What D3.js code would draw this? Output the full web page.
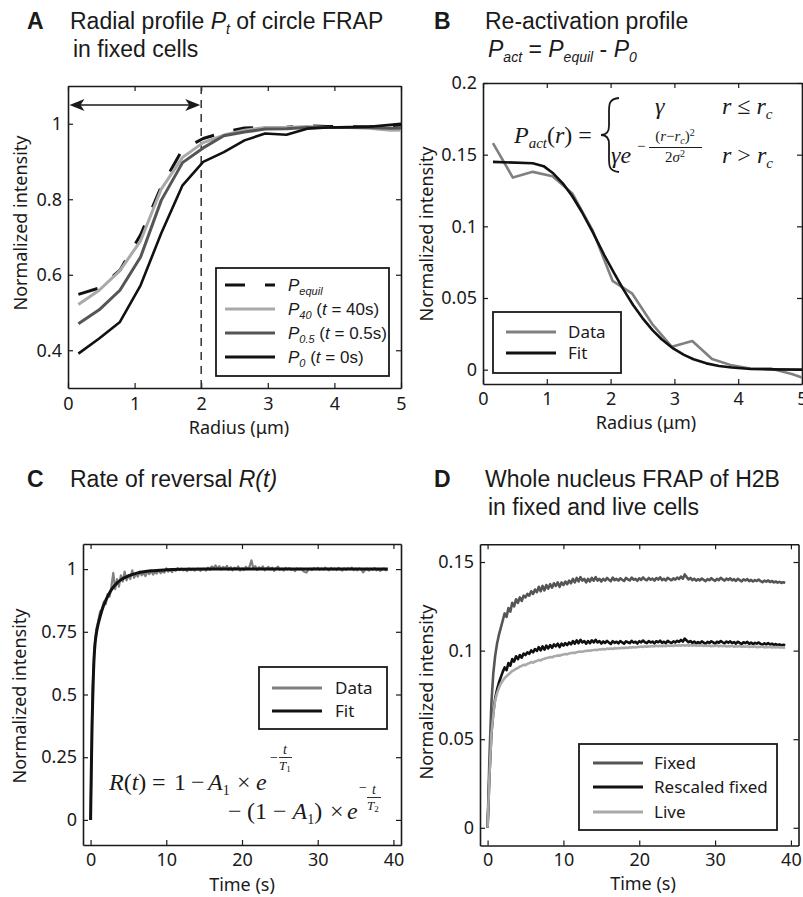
<!DOCTYPE html>
<html><head><meta charset="utf-8">
<script src="https://cdn.jsdelivr.net/npm/d3@7"></script>
<style>body{margin:0;background:#fff;}svg{display:block;}text{white-space:pre;}</style>
</head><body>
<svg id="fig" width="803" height="897"></svg>
<script>
// ================= DATA =================
// Panel A : radial profiles (radius in µm)
const radiusA = [0.156,0.468,0.78,1.09,1.40,1.72,2.03,2.34,2.65,2.96,3.28,3.59,3.90,4.21,4.52,4.84,5.0];
const pEquil  = [0.548,0.565,0.612,0.706,0.833,0.932,0.961,0.977,0.989,0.990,0.991,0.994,0.993,0.992,0.992,0.995,0.997];
const p40     = [0.521,0.559,0.611,0.690,0.827,0.911,0.950,0.970,0.983,0.990,0.990,0.993,0.990,0.990,0.988,0.983,0.983];
const p05     = [0.470,0.507,0.559,0.647,0.797,0.897,0.936,0.968,0.978,0.986,0.987,0.990,0.990,0.990,0.990,0.988,0.989];
const p0      = [0.391,0.431,0.475,0.572,0.710,0.837,0.899,0.925,0.956,0.974,0.971,0.987,0.990,0.991,0.992,0.997,1.000];
const rcA = 2, arrowLevelA = 1.05;
const xTicksA = [0,1,2,3,4,5], xLabelsA = ["0","1","2","3","4","5"];
const yTicksA = [0.4,0.6,0.8,1], yLabelsA = ["0.4","0.6","0.8","1"];

// Panel B : re-activation profile
const actData = [0.158,0.134,0.138,0.135,0.123,0.097,0.062,0.053,0.032,0.016,0.020,0.0075,0.003,0.0007,0.0007,-0.003,-0.0054];
const fitRadiusB = [0.156,0.78,0.95,1.1,1.25,1.4,1.55,1.72,1.9,2.04,2.2,2.35,2.5,2.66,2.8,2.98,3.15,3.3,3.5,3.7,3.9,4.2,4.5,5.0];
const fitValuesB = [0.145,0.144,0.142,0.137,0.130,0.121,0.110,0.096,0.080,0.0686,0.056,0.0453,0.036,0.0274,0.0212,0.0148,0.0103,0.0073,0.0044,0.0026,0.0015,0.0005,0.0002,0.0];
const xTicksB = [0,1,2,3,4,5], xLabelsB = ["0","1","2","3","4","5"];
const yTicksB = [0,0.05,0.1,0.15,0.2], yLabelsB = ["0","0.05","0.1","0.15","0.2"];

// Panels C, D : time series sampled every 0.25 s
const timeStep = 0.25;
const reversalData = [0,0.52,0.68,0.76,0.79,0.83,0.84,0.87,0.86,0.90,0.89,0.93,0.985,0.92,0.96,0.93,
0.975,0.95,0.99,0.955,0.975,0.96,0.995,0.965,0.98,0.97,0.99,0.975,0.985,0.972,0.99,0.98,
0.993,0.978,0.988,0.982,0.996,0.984,0.99,0.986,1.003,0.99,0.997,0.988,1.0,0.993,1.004,0.996,
1.002,0.995,0.999,0.992,1.003,0.996,1.001,0.994,0.998,1.002,0.993,0.999,1.001,0.994,1.006,0.997,
1.011,1.004,1.015,1.002,1.012,0.998,1.009,1.003,1.013,0.997,1.008,0.995,1.006,1.0,1.011,0.994,
1.003,0.996,1.009,1.0,1.01,1.035,1.002,1.012,0.996,1.008,1.001,1.011,0.995,1.004,1.009,0.998,
1.006,0.993,1.003,1.01,0.997,1.002,0.994,1.005,0.999,1.004,0.996,1.001,0.992,1.003,0.998,1.002,
0.995,0.989,0.986,0.997,1.002,0.996,1.004,0.999,1.005,0.997,1.003,0.998,1.006,1.0,0.995,1.004,
0.998,1.002,0.996,1.005,0.999,0.994,1.003,0.997,1.004,0.999,1.006,0.996,1.002,0.995,1.003,0.998,
0.987,0.996,1.002,0.994,1.001,0.997,1.004,0.995,1.0,0.993,0.998,1.002,0.995,0.999];
const fitTimesC  = [0,0.1,0.2,0.3,0.4,0.5,0.6,0.8,1,1.3,1.6,2,2.5,3,3.5,4,5,6,7,8,10,12,15,20,30,39.25];
const fitValuesC = [0,0.2,0.38,0.5,0.6,0.665,0.705,0.75,0.78,0.815,0.845,0.875,0.905,0.928,0.945,0.957,0.973,0.983,0.989,0.993,0.997,0.999,1.0,1.0,1.0,1.0];
const xTicksC = [0,10,20,30,40], xLabelsC = ["0","10","20","30","40"];
const yTicksC = [0,0.25,0.5,0.75,1], yLabelsC = ["0","0.25","0.5","0.75","1"];

const fixedD = [0,0.040,0.070,0.087,0.097,0.104,0.109,0.113,0.117,0.121,0.119,0.124,0.122,0.127,0.125,0.129,
0.127,0.130,0.128,0.131,0.130,0.132,0.131,0.1335,0.132,0.1345,0.133,0.136,0.1335,0.1365,0.134,0.137,
0.135,0.1375,0.1355,0.138,0.1365,0.1385,0.136,0.1385,0.137,0.139,0.1375,0.1395,0.138,0.1405,0.1385,0.141,
0.139,0.1415,0.1395,0.1405,0.1385,0.1405,0.139,0.141,0.1395,0.1415,0.1395,0.1405,
0.1390,0.1405,0.1395,0.1410,0.1400,0.1392,0.1412,0.1398,0.1405,0.1395,0.1408,0.1400,0.1393,0.1410,0.1402,0.1396,
0.1412,0.1400,0.1405,0.1394,0.1408,0.1399,0.1413,0.1402,0.1397,0.1410,0.1400,0.1406,0.1395,0.1409,0.1401,0.1414,
0.1398,0.1405,0.1396,0.1411,0.1403,0.1397,0.1408,0.1400,0.1412,0.1404,0.1418,0.1406,0.1430,0.1415,0.1402,0.1410,
0.1398,0.1406,0.1395,0.1403,0.1396,0.1407,0.1399,0.1392,0.1404,0.1397,0.1409,0.1400,0.1394,0.1405,0.1398,0.1411,
0.1402,0.1395,0.1406,0.1399,0.1408,0.1396,0.1403,0.1393,0.1405,0.1398,0.1391,0.1402,0.1396,0.1404,0.1392,0.1399,
0.1390,0.1398,0.1393,0.1401,0.1392,0.1386,0.1395,0.1389,0.1396,0.1387,0.1393,0.1385,0.1390,0.1384,0.1388,0.1382,
0.1386,0.1383];
const rescaledD = [0,0.030,0.053,0.065,0.073,0.078,0.082,0.085,0.088,0.0905,0.089,0.093,0.0915,0.0952,0.0938,0.0968,
0.0952,0.0975,0.096,0.0983,0.0975,0.099,0.0982,0.1001,0.099,0.1009,0.0998,0.102,0.1001,0.1024,0.1005,0.1028,
0.1012,0.1031,0.1016,0.1035,0.1024,0.1039,0.102,0.1039,0.1028,0.1042,0.1031,0.1046,0.1035,0.1054,0.1039,0.1058,
0.1042,0.1061,0.1046,0.1054,0.1039,0.1054,0.1042,0.1058,0.1046,0.1061,0.1046,0.1054,
0.1040,0.1052,0.1043,0.1055,0.1045,0.1038,0.1053,0.1044,0.1050,0.1041,0.1054,0.1046,0.1039,0.1052,0.1047,0.1042,
0.1055,0.1045,0.1050,0.1040,0.1053,0.1046,0.1057,0.1047,0.1042,0.1054,0.1046,0.1051,0.1041,0.1053,0.1047,0.1056,
0.1044,0.1050,0.1042,0.1055,0.1048,0.1043,0.1052,0.1046,0.1055,0.1049,0.1060,0.1051,0.1068,0.1057,0.1047,0.1054,
0.1044,0.1051,0.1041,0.1048,0.1042,0.1052,0.1045,0.1038,0.1049,0.1043,0.1053,0.1046,0.1040,0.1050,0.1044,0.1054,
0.1047,0.1041,0.1051,0.1045,0.1052,0.1042,0.1048,0.1039,0.1050,0.1044,0.1037,0.1047,0.1042,0.1049,0.1038,0.1045,
0.1037,0.1044,0.1039,0.1046,0.1038,0.1033,0.1041,0.1035,0.1042,0.1034,0.1039,0.1032,0.1037,0.1031,0.1035,0.1029,
0.1033,0.1030];
const liveD = [0,0.030,0.053,0.064,0.072,0.076,0.079,0.0815,0.083,0.0845,0.0855,0.0865,0.0875,0.0885,0.089,0.0898,
0.0902,0.091,0.0913,0.092,0.0918,0.0926,0.0929,0.0935,0.0932,0.0939,0.0942,0.0947,0.0945,0.0951,0.0954,0.0958,
0.096,0.0964,0.0962,0.0968,0.097,0.0973,0.0971,0.0976,0.0978,0.0981,0.0979,0.0984,0.0986,0.0988,0.0987,0.0991,
0.0993,0.0995,0.0993,0.0997,0.0998,0.1,0.0999,0.1002,0.1003,0.1005,0.1003,0.1007,
0.1006,0.1009,0.1007,0.1011,0.1010,0.1012,0.1009,0.1014,0.1012,0.1015,0.1013,0.1016,0.1014,0.1017,0.1015,0.1019,
0.1017,0.1020,0.1018,0.1021,0.1020,0.1023,0.1021,0.1024,0.1022,0.1025,0.1023,0.1026,0.1024,0.1027,0.1024,0.1028,
0.1025,0.1028,0.1025,0.1029,0.1026,0.1029,0.1026,0.1030,0.1027,0.1030,0.1027,0.1031,0.1028,0.1031,0.1028,0.1031,
0.1028,0.1031,0.1027,0.1030,0.1027,0.1030,0.1026,0.1029,0.1026,0.1029,0.1025,0.1028,0.1026,0.1029,0.1024,0.1027,
0.1025,0.1028,0.1023,0.1026,0.1024,0.1027,0.1022,0.1025,0.1023,0.1026,0.1021,0.1024,0.1022,0.1025,0.1020,0.1023,
0.1021,0.1024,0.1019,0.1022,0.1020,0.1023,0.1018,0.1021,0.1019,0.1022,0.1018,0.1020,0.1018,0.1021,0.1017,0.1019,
0.1017,0.1018];
const xTicksD = [0,10,20,30,40], xLabelsD = ["0","10","20","30","40"];
const yTicksD = [0,0.05,0.1,0.15], yLabelsD = ["0","0.05","0.1","0.15"];

// ================= DRAWING =================
const svg = d3.select('#fig');
const INK = '#1a1a1a';
const AX_FONT = "'Noto Sans','Open Sans','DejaVu Sans',sans-serif";
const TITLE_FONT = "'Liberation Sans',Arial,sans-serif";
const SERIF = "'Liberation Serif','DejaVu Serif',serif";

function makeAxes(o){
  const x = d3.scaleLinear().domain(o.xDomain).range(o.xRange);
  const y = d3.scaleLinear().domain(o.yDomain).range(o.yRange);
  const g = svg.append('g');
  const T = 5;
  const lab = L => (d,i) => L[i];
  const blank = () => '';
  const list = [
    [d3.axisBottom(x).tickValues(o.xTicks).tickFormat(lab(o.xLabels)).tickPadding(o.xPad), `translate(0,${o.yRange[0]})`],
    [d3.axisTop(x).tickValues(o.xTicks).tickFormat(blank), `translate(0,${o.yRange[1]})`],
    [d3.axisLeft(y).tickValues(o.yTicks).tickFormat(lab(o.yLabels)).tickPadding(6), `translate(${o.xRange[0]},0)`],
    [d3.axisRight(y).tickValues(o.yTicks).tickFormat(blank), `translate(${o.xRange[1]},0)`]
  ];
  list.forEach(([ax,tr])=>{
    const a = g.append('g').attr('transform',tr).call(ax.tickSizeInner(-T).tickSizeOuter(0));
    a.select('.domain').attr('stroke',INK).attr('stroke-width',1.6);
    a.selectAll('.tick line').attr('stroke',INK).attr('stroke-width',1.2);
    a.selectAll('text').attr('font-family',AX_FONT).attr('font-size',18).attr('fill',INK);
  });
  g.append('text').attr('transform',`translate(${o.yLab[0]},${o.yLab[1]}) rotate(-90)`)
    .attr('text-anchor','middle').attr('dy','0.35em').attr('font-family',AX_FONT).attr('font-size',18).attr('fill',INK)
    .text('Normalized intensity');
  g.append('text').attr('x',o.xLab[0]).attr('y',o.xLab[1]).attr('text-anchor','middle')
    .attr('font-family',AX_FONT).attr('font-size',18).attr('fill',INK).text(o.xTitle);
  return {g,x,y};
}

function rich(parent, x, y, parts, base){
  const t = parent.append('text').attr('x',x).attr('y',y).attr('font-family',base.family)
    .attr('font-size',base.size).attr('fill',INK);
  if(base.anchor) t.attr('text-anchor',base.anchor);
  if(base.weight) t.attr('font-weight',base.weight);
  let shift = 0;
  parts.forEach(p=>{
    const s = t.append('tspan').text(p.t);
    const target = p.sub ? (base.subShift||5) : (p.sup ? -(base.supShift||8) : 0);
    if(target!==shift){ s.attr('dy', target-shift); shift = target; }
    if(p.it) s.attr('font-style','italic');
    if(p.sub||p.sup) s.attr('font-size', base.subSize);
  });
  return t;
}

function legend(parent, box, rows, lineX, textX, textOpts){
  parent.append('rect').attr('x',box[0]).attr('y',box[1]).attr('width',box[2]-box[0]).attr('height',box[3]-box[1])
    .attr('fill','#fff').attr('stroke',INK).attr('stroke-width',1.8);
  rows.forEach(r=>{
    const l = parent.append('line').attr('x1',lineX[0]).attr('x2',lineX[1]).attr('y1',r.y).attr('y2',r.y)
      .attr('stroke',r.color).attr('stroke-width',r.w||3);
    if(r.dash) l.attr('stroke-dasharray',r.dash);
    rich(parent, textX, r.y+6, r.parts, textOpts);
  });
}

// ---------- Title texts ----------
const T23 = {family:TITLE_FONT, size:23, subSize:14, subShift:5};
const BOLD = {family:TITLE_FONT,size:23,weight:'bold'};
rich(svg, 27, 29, [{t:'A'}], BOLD);
rich(svg, 70, 29, [{t:'Radial profile '},{t:'P',it:true},{t:'t',it:true,sub:true},{t:' of circle FRAP'}], T23);
rich(svg, 73, 57, [{t:'in fixed cells'}], T23);
rich(svg, 434, 29, [{t:'B'}], BOLD);
rich(svg, 485, 29, [{t:'Re-activation profile'}], T23);
rich(svg, 488, 57, [{t:'P',it:true},{t:'act',it:true,sub:true},{t:' = '},{t:'P',it:true},{t:'equil',it:true,sub:true},{t:' - '},{t:'P',it:true},{t:'0',it:true,sub:true}], T23);
rich(svg, 27, 487, [{t:'C'}], BOLD);
rich(svg, 70, 487, [{t:'Rate of reversal '},{t:'R(t)',it:true}], T23);
rich(svg, 434, 487, [{t:'D'}], BOLD);
rich(svg, 485, 487, [{t:'Whole nucleus FRAP of H2B'}], T23);
rich(svg, 488, 515, [{t:'in fixed and live cells'}], T23);

// ---------- Panel A ----------
{
  const {g,x,y} = makeAxes({xDomain:[0,5], xRange:[68,401], yDomain:[0.3,1.1], yRange:[388,86],
    xTicks:xTicksA, xLabels:xLabelsA, yTicks:yTicksA, yLabels:yLabelsA, xPad:9,
    yLab:[21,223], xLab:[239,434], xTitle:'Radius (μm)'});
  g.append('line').attr('x1',x(rcA)).attr('x2',x(rcA)).attr('y1',y(1.1)).attr('y2',y(0.3))
    .attr('stroke','#333').attr('stroke-width',1.5).attr('stroke-dasharray','8,6');
  // double arrow
  const ax0 = x(0)+1.5, ax1 = x(rcA)-1, ay = y(arrowLevelA);
  g.append('line').attr('x1',ax0+4).attr('x2',ax1-4).attr('y1',ay).attr('y2',ay).attr('stroke',INK).attr('stroke-width',1.5);
  g.append('path').attr('d',`M${ax0},${ay} L${ax0+15},${ay-6} L${ax0+11},${ay} L${ax0+15},${ay+6} Z`).attr('fill',INK);
  g.append('path').attr('d',`M${ax1},${ay} L${ax1-15},${ay-6} L${ax1-11},${ay} L${ax1-15},${ay+6} Z`).attr('fill',INK);
  const line = d3.line().x((d,i)=>x(radiusA[i])).y(d=>y(d));
  const series = [
    {v:pEquil, c:'#111', w:3, dash:'20,20'},
    {v:p40, c:'#a9a9a9', w:3},
    {v:p05, c:'#555', w:3},
    {v:p0, c:'#111', w:2.6}
  ];
  series.forEach(s=>{
    const p = g.append('path').attr('d',line(s.v)).attr('fill','none').attr('stroke',s.c).attr('stroke-width',s.w)
      .attr('stroke-linejoin','round');
    if(s.dash) p.attr('stroke-dasharray',s.dash);
  });
  const LA = {family:TITLE_FONT,size:17,subSize:11,subShift:4};
  legend(g,[216,268,389,376],[
    {y:285,color:'#111',dash:'20,20',parts:[{t:'P',it:true},{t:'equil',it:true,sub:true}]},
    {y:309,color:'#a9a9a9',parts:[{t:'P',it:true},{t:'40',it:true,sub:true},{t:' ('},{t:'t',it:true},{t:' = 40s)'}]},
    {y:333,color:'#555',parts:[{t:'P',it:true},{t:'0.5',it:true,sub:true},{t:' ('},{t:'t',it:true},{t:' = 0.5s)'}]},
    {y:357,color:'#111',parts:[{t:'P',it:true},{t:'0',it:true,sub:true},{t:' ('},{t:'t',it:true},{t:' = 0s)'}]}
  ],[225,275],288,LA);
}

// ---------- Panel B ----------
{
  const {g,x,y} = makeAxes({xDomain:[0,5], xRange:[483,802], yDomain:[-0.01,0.2], yRange:[384,83],
    xTicks:xTicksB, xLabels:xLabelsB, yTicks:yTicksB, yLabels:yLabelsB, xPad:8,
    yLab:[427,234], xLab:[646,429], xTitle:'Radius (μm)'});
  g.append('path').attr('d',d3.line().x((d,i)=>x(radiusA[i])).y(d=>y(d))(actData))
    .attr('fill','none').attr('stroke','#808080').attr('stroke-width',2.6).attr('stroke-linejoin','round');
  g.append('path').attr('d',d3.line().x((d,i)=>x(fitRadiusB[i])).y(d=>y(d))(fitValuesB))
    .attr('fill','none').attr('stroke','#111').attr('stroke-width',2.6).attr('stroke-linejoin','round');
  // equation
  const E = {family:SERIF,size:24,subSize:15,subShift:5};
  rich(g,514,143,[{t:'P',it:true},{t:'act',it:true,sub:true},{t:'('},{t:'r',it:true},{t:') ='}],E);
  g.append('path').attr('d','M619,98 C609,99 609,104 609,112 L609,126 C609,132 606,135 601,135 C606,135 609,138 609,144 L609,158 C609,166 609,171 619,172')
    .attr('fill','none').attr('stroke',INK).attr('stroke-width',1.8);
  rich(g,655,114,[{t:'γ',it:true}],E);
  rich(g,722,114,[{t:'r',it:true},{t:' ≤ '},{t:'r',it:true},{t:'c',it:true,sub:true}],E);
  rich(g,611,163,[{t:'γe',it:true}],E);
  rich(g,637,151,[{t:'−'}],{family:SERIF,size:15});
  rich(g,675,141,[{t:'('},{t:'r',it:true},{t:'−'},{t:'r',it:true},{t:'c',it:true,sub:true},{t:')'},{t:'2',sup:true}],{family:SERIF,size:15,subSize:10,subShift:3,supShift:5,anchor:'middle'});
  g.append('line').attr('x1',649).attr('x2',702).attr('y1',147.5).attr('y2',147.5).attr('stroke',INK).attr('stroke-width',1);
  rich(g,675,162,[{t:'2'},{t:'σ',it:true},{t:'2',sup:true}],{family:SERIF,size:15,subSize:10,supShift:5,anchor:'middle'});
  rich(g,722,163,[{t:'r',it:true},{t:' > '},{t:'r',it:true},{t:'c',it:true,sub:true}],E);
  const LB = {family:AX_FONT,size:17};
  legend(g,[493,312,621,373],[
    {y:332,color:'#808080',parts:[{t:'Data'}]},
    {y:353,color:'#111',parts:[{t:'Fit'}]}
  ],[506,556],568,LB);
}

// ---------- Panel C ----------
{
  const {g,x,y} = makeAxes({xDomain:[-1,41], xRange:[83,401], yDomain:[-0.1,1.1], yRange:[845,544],
    xTicks:xTicksC, xLabels:xLabelsC, yTicks:yTicksC, yLabels:yLabelsC, xPad:8,
    yLab:[20,696], xLab:[242,891], xTitle:'Time (s)'});
  g.append('path').attr('d',d3.line().x((d,i)=>x(i*timeStep)).y(d=>y(d))(reversalData))
    .attr('fill','none').attr('stroke','#808080').attr('stroke-width',2.2).attr('stroke-linejoin','round');
  g.append('path').attr('d',d3.line().curve(d3.curveMonotoneX).x((d,i)=>x(fitTimesC[i])).y(d=>y(d))(fitValuesC))
    .attr('fill','none').attr('stroke','#111').attr('stroke-width',3);
  legend(g,[259,667,387,729],[
    {y:688,color:'#808080',parts:[{t:'Data'}]},
    {y:711,color:'#111',parts:[{t:'Fit'}]}
  ],[272,322],335,{family:AX_FONT,size:17});
  // equation
  const E = {family:SERIF,size:24,subSize:14,subShift:5};
  const L1 = 790, L2 = 819;
  rich(g,109,L1,[{t:'R',it:true},{t:'('},{t:'t',it:true},{t:')'}],E);
  rich(g,152,L1,[{t:'='}],E);
  rich(g,174,L1,[{t:'1'}],E);
  rich(g,191,L1,[{t:'−'}],E);
  rich(g,208,L1,[{t:'A',it:true},{t:'1',sub:true}],E);
  rich(g,237,L1,[{t:'×'}],E);
  rich(g,256,L1,[{t:'e',it:true}],E);
  rich(g,270,762,[{t:'−'}],{family:SERIF,size:14});
  rich(g,285,754,[{t:'t',it:true}],{family:SERIF,size:14,anchor:'middle'});
  g.append('line').attr('x1',279).attr('x2',292).attr('y1',757.5).attr('y2',757.5).attr('stroke',INK).attr('stroke-width',0.9);
  rich(g,279,770,[{t:'T',it:true},{t:'1',sub:true}],{family:SERIF,size:13,subSize:9,subShift:2});
  rich(g,228,L2,[{t:'−'}],E);
  rich(g,247,L2,[{t:'(1 − '},{t:'A',it:true},{t:'1',sub:true},{t:')'}],E);
  rich(g,330,L2,[{t:'×'}],E);
  rich(g,347,L2,[{t:'e',it:true}],E);
  rich(g,359,792,[{t:'−'}],{family:SERIF,size:14});
  rich(g,374,794,[{t:'t',it:true}],{family:SERIF,size:14,anchor:'middle'});
  g.append('line').attr('x1',367).attr('x2',381).attr('y1',797.5).attr('y2',797.5).attr('stroke',INK).attr('stroke-width',0.9);
  rich(g,367,810,[{t:'T',it:true},{t:'2',sub:true}],{family:SERIF,size:13,subSize:9,subShift:2});
}

// ---------- Panel D ----------
{
  const {g,x,y} = makeAxes({xDomain:[-1,41], xRange:[480,798.5], yDomain:[-0.01,0.16], yRange:[845.5,544.3],
    xTicks:xTicksD, xLabels:xLabelsD, yTicks:yTicksD, yLabels:yLabelsD, xPad:8,
    yLab:[427,692], xLab:[643,890], xTitle:'Time (s)'});
  const line = d3.line().x((d,i)=>x(i*timeStep)).y(d=>y(d));
  [[fixedD,'#555'],[rescaledD,'#111'],[liveD,'#a9a9a9']].forEach(([v,c])=>{
    g.append('path').attr('d',line(v)).attr('fill','none').attr('stroke',c).attr('stroke-width',2.6).attr('stroke-linejoin','round');
  });
  legend(g,[579,744,777,830],[
    {y:763,color:'#555',parts:[{t:'Fixed'}]},
    {y:787,color:'#111',parts:[{t:'Rescaled fixed'}]},
    {y:812,color:'#a9a9a9',parts:[{t:'Live'}]}
  ],[593,643],654,{family:AX_FONT,size:17});
}
</script>
</body></html>
